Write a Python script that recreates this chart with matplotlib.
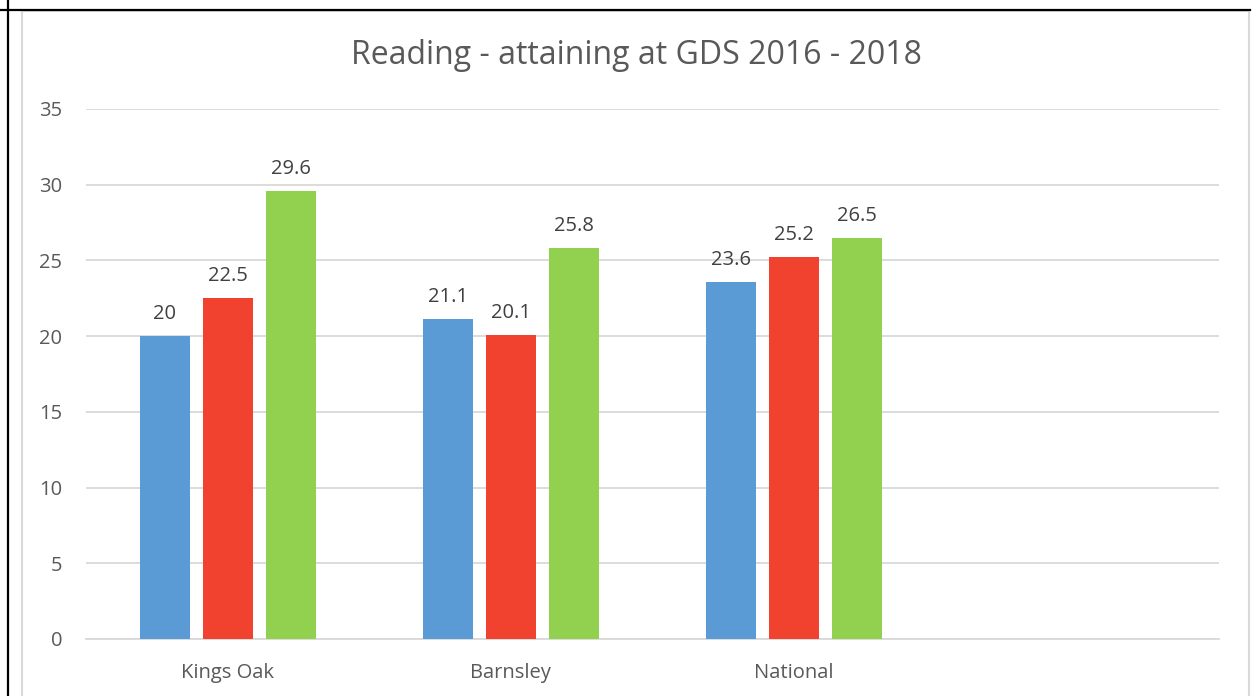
import matplotlib
matplotlib.use('Agg')
import matplotlib.pyplot as plt
import numpy as np
from matplotlib.lines import Line2D
from matplotlib.patches import Rectangle

categories = ['Kings Oak', 'Barnsley', 'National', '']
series_2016 = [20, 21.1, 23.6, None]
series_2017 = [22.5, 20.1, 25.2, None]
series_2018 = [29.6, 25.8, 26.5, None]
series_names = ['2016', '2017', '2018']
colors = ['#5B9BD5', '#F14230', '#92D050']

plt.rcParams['font.family'] = ['Open Sans', 'DejaVu Sans']

fig = plt.figure(figsize=(12.53, 6.96), dpi=100)
W, H = 1253, 696

# outer borders (table cell look)
fig.add_artist(Line2D([0, 1250 / W], [1 - 9.5 / H] * 2, color='black', lw=1.6))
fig.add_artist(Line2D([8 / W] * 2, [0, 1], color='black', lw=1.6))
fig.add_artist(Rectangle((22 / W, -0.01), 1227 / W, 1 - 10.5 / H + 0.01,
                         fill=False, edgecolor='#D9D9D9', lw=1.5))

ax = fig.add_axes([86 / W, 1 - 639 / H, (1219 - 86) / W, (639 - 109) / H])

x = np.arange(len(categories))
width = 0.1765
step = 0.2224
for i, vals in enumerate([series_2016, series_2017, series_2018]):
    xs = [xi + (i - 1) * step for xi, v in zip(x, vals) if v is not None]
    ys = [v for v in vals if v is not None]
    bars = ax.bar(xs, ys, width=width, color=colors[i], label=series_names[i], zorder=3)
    for b, v in zip(bars, ys):
        ax.text(b.get_x() + b.get_width() / 2, v + 0.8, f'{v:g}', ha='center', va='bottom',
                fontsize=14.5, color='#404040')

ax.set_xlim(-0.5, len(categories) - 0.5)
ax.set_ylim(0, 35)
ax.set_yticks(range(0, 36, 5))
ax.set_xticks(x)
ax.set_xticklabels(categories)
ax.grid(axis='y', color='#D9D9D9', lw=1.3, zorder=0)
for s in ['top', 'right', 'left']:
    ax.spines[s].set_visible(False)
ax.spines['bottom'].set_color('#D9D9D9')
ax.spines['bottom'].set_linewidth(1.3)
ax.tick_params(axis='both', length=0, labelsize=14.5, labelcolor='#595959')
ax.tick_params(axis='y', pad=17)
ax.tick_params(axis='x', pad=17)

fig.text(636 / W, 1 - 56 / H, 'Reading - attaining at GDS 2016 - 2018', ha='center', va='center',
         fontsize=23, color='#595959')

fig.savefig('out.png', dpi=100)
